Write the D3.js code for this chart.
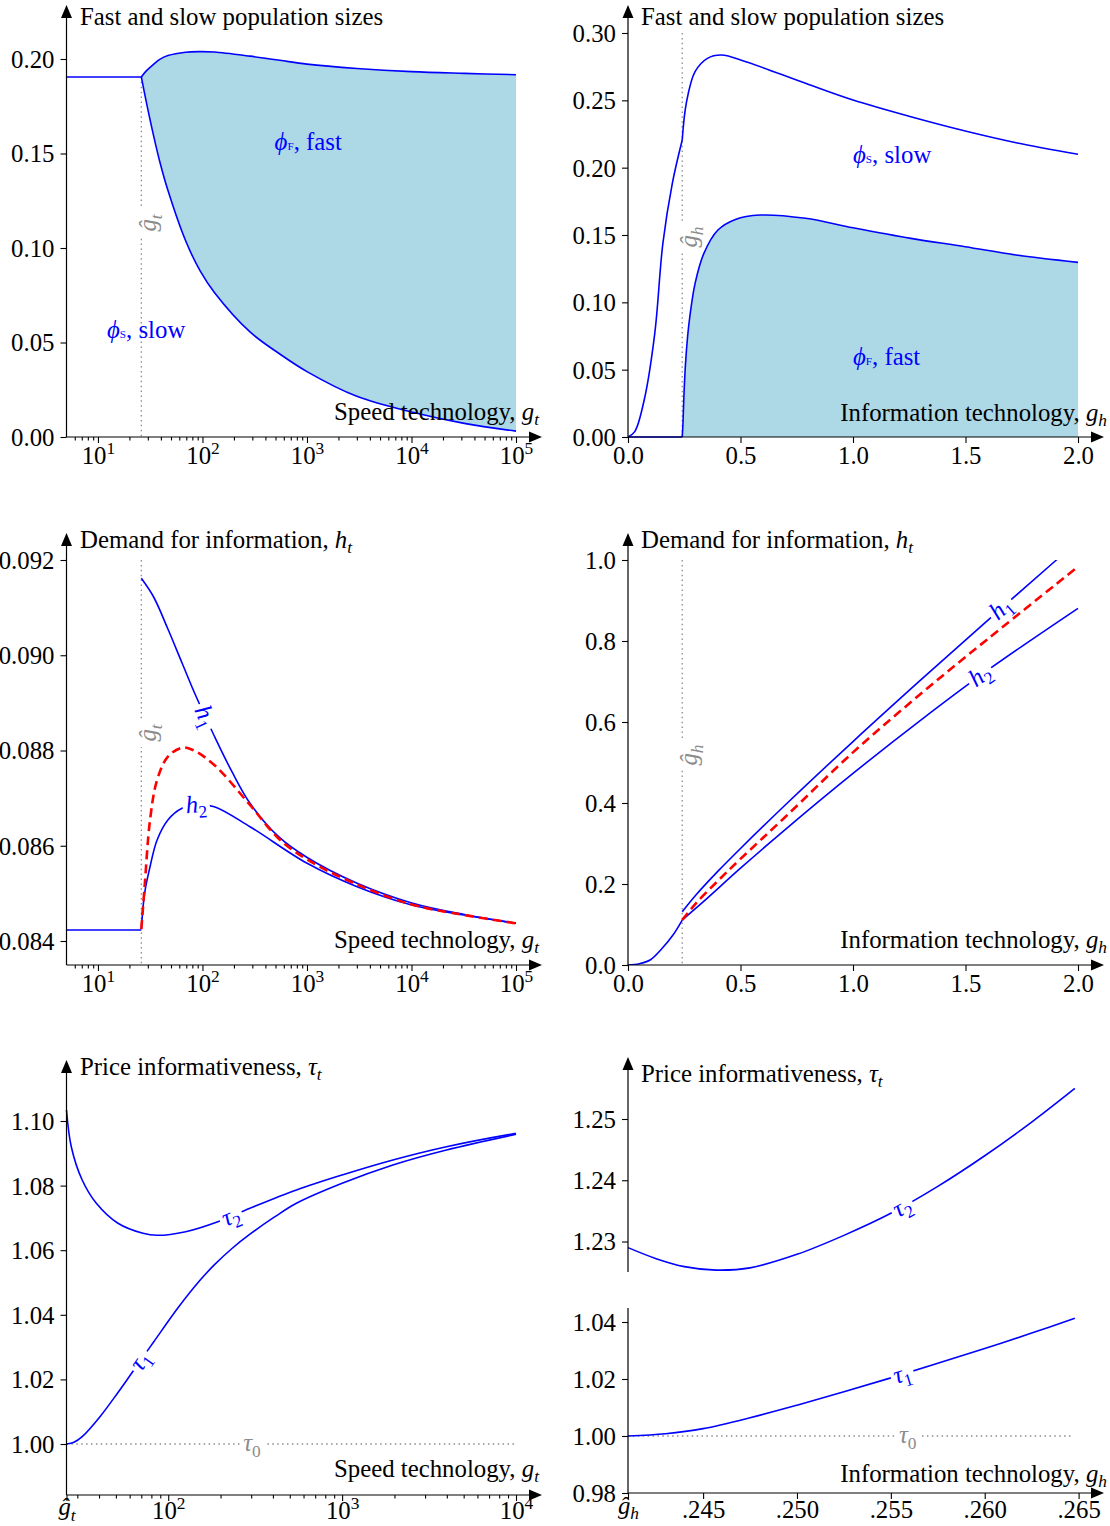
<!DOCTYPE html>
<html>
<head>
<meta charset="utf-8">
<script src="https://cdn.jsdelivr.net/npm/d3@7"></script>
<style>
  body { margin: 0; background: #fff; }
  svg { display: block; }
</style>
</head>
<body>
<script>
// ---------------- data ----------------
const gHatT = 26;      // speed-technology threshold
const gHatH = 0.241;   // information-technology threshold

// Population sizes vs speed technology (log axis)
const speedPreG = [5, 26];
const speedPrePhi = [0.1905, 0.1905];
const speedG = [26, 29, 34, 39, 46.7, 69, 95, 130, 285, 550, 1000, 3000, 10000, 32000, 100000];
const speedPhiTotal = [0.1905, 0.1937, 0.1972, 0.1998, 0.2018, 0.2036, 0.2039, 0.2037, 0.2015, 0.1993, 0.1973, 0.1950, 0.1933, 0.1924, 0.1917];
const speedPhiSlow  = [0.1905, 0.1773, 0.1596, 0.1458, 0.1305, 0.1038, 0.0879, 0.0765, 0.0556, 0.0439, 0.0346, 0.0215, 0.0132, 0.0072, 0.0031];

// Population sizes vs information technology
const infoSlowG = [0, 0.03, 0.072, 0.119, 0.155, 0.197, 0.241, 0.259, 0.298, 0.353, 0.415, 0.524, 0.789, 1.0, 1.257, 1.499, 1.725, 2.0];
const infoPhiSlow = [0, 0.004, 0.0275, 0.077, 0.1438, 0.1884, 0.2205, 0.2478, 0.2713, 0.2812, 0.2837, 0.2787, 0.2626, 0.2502, 0.2378, 0.2272, 0.2185, 0.2099];
const infoFastG = [0.241, 0.2445, 0.248, 0.255, 0.265, 0.2747, 0.2982, 0.3373, 0.3996, 0.4773, 0.5867, 0.7893, 1.0, 1.2573, 1.4991, 1.7249, 2.0];
const infoPhiFast = [0, 0.0108, 0.0283, 0.0528, 0.0748, 0.0893, 0.1141, 0.1364, 0.1537, 0.1616, 0.1648, 0.1624, 0.1554, 0.1475, 0.1413, 0.1351, 0.1297];

// Demand for information vs speed technology
const speedPreH = [0.08423, 0.08423];
const hSpeedG1 = [26, 34.1, 46.7, 63.8, 86.1, 129.8, 192, 285, 535, 1003, 3017, 10070, 32000, 100000];
const hSpeed1  = [0.091616, 0.091223, 0.090551, 0.089837, 0.089155, 0.088304, 0.087549, 0.086891, 0.086190, 0.085753, 0.085212, 0.084798, 0.084556, 0.084372];
const hSpeedG2 = [26, 27.95, 31.5, 36.8, 46.7, 63.8, 90.6, 129.8, 285, 1003, 3017, 10070, 32000, 100000];
const hSpeed2  = [0.08425, 0.08500, 0.08556, 0.086121, 0.086541, 0.086786, 0.086856, 0.08682, 0.08640, 0.085631, 0.08514, 0.084756, 0.084546, 0.084372];
const hSpeedGA = [26, 27.95, 31.5, 36.8, 46.7, 63.8, 81, 129.8, 285, 535, 1003, 3017, 10070, 32000, 100000];
const hSpeedAvg = [0.08425, 0.08514, 0.086541, 0.087381, 0.08787, 0.088059, 0.088011, 0.087696, 0.086856, 0.086152, 0.085711, 0.085186, 0.084766, 0.084546, 0.084372];

// Demand for information vs information technology
const infoPreG = [0, 0.05, 0.1, 0.15, 0.2, 0.241];
const infoPreH = [0, 0.003, 0.013, 0.040, 0.074, 0.111];
const hInfoG1 = [0.241, 0.3, 0.4, 0.5, 0.7, 1.0, 1.3, 1.6, 1.9, 2.0];
const hInfo1  = [0.1316, 0.1717, 0.2317, 0.2877, 0.3957, 0.5517, 0.7032, 0.8517, 0.9981, 1.0466];
const hInfoGA = [0.241, 0.3, 0.4, 0.5, 0.7, 1.0, 1.3, 1.6, 2.0];
const hInfoAvg = [0.111, 0.151, 0.208, 0.262, 0.366, 0.525, 0.669, 0.8055, 0.9835];
const hInfoG2 = [0.241, 0.335, 0.5, 0.7, 1.0, 1.3, 1.6, 2.0];
const hInfo2  = [0.111, 0.1563, 0.239, 0.335, 0.473, 0.604, 0.7285, 0.8807];

// Price informativeness vs speed technology
const tauSpeedG2 = [26, 27.7, 32, 38.6, 51.4, 71.5, 86.3, 126, 193, 295, 546, 1000, 1959, 3981, 10000];
const tauSpeed2  = [1.10341, 1.09204, 1.08173, 1.07452, 1.06833, 1.06523, 1.06461, 1.06573, 1.06882, 1.07297, 1.07864, 1.08328, 1.08793, 1.09204, 1.09619];
const tauSpeedG1 = [26, 28.7, 32, 40.5, 51.4, 62, 82.4, 114.7, 152.3, 184, 232.6, 295, 411, 546, 1000, 1959, 3981, 10000];
const tauSpeed1  = [1.0, 1.00053, 1.00226, 1.00845, 1.01594, 1.02214, 1.03158, 1.04241, 1.05068, 1.05545, 1.06053, 1.06495, 1.07037, 1.07452, 1.08071, 1.08638, 1.09102, 1.09588];
const tauZero = 1.0;

// Price informativeness vs information technology
const tauInfoG2 = [0.241, 0.2425, 0.244, 0.2457, 0.2475, 0.25, 0.2525, 0.255, 0.2575, 0.26, 0.2625, 0.2648];
const tauInfo2  = [1.2290, 1.2272, 1.2259, 1.22533, 1.2257, 1.2279, 1.2310, 1.2346, 1.2390, 1.2440, 1.2495, 1.2550];
const tauInfoG1 = [0.241, 0.243, 0.245, 0.2475, 0.25, 0.2525, 0.255, 0.2575, 0.26, 0.2625, 0.2648];
const tauInfo1  = [1.0, 1.0008, 1.0026, 1.0064, 1.0108, 1.0155, 1.0204, 1.0255, 1.0307, 1.0361, 1.0413];

// Tick values
const speedMajor = [10, 100, 1000, 10000, 100000];
const tauSpeedMajor = [gHatT, 100, 1000, 10000];
const infoTicks = [0, 0.5, 1.0, 1.5, 2.0];
const infoZoomTicks = [gHatH, 0.245, 0.25, 0.255, 0.26, 0.265];
const phiSpeedTicks = [0, 0.05, 0.10, 0.15, 0.20];
const phiInfoTicks = [0, 0.05, 0.10, 0.15, 0.20, 0.25, 0.30];
const hSpeedTicks = [0.084, 0.086, 0.088, 0.090, 0.092];
const hInfoTicks = [0, 0.2, 0.4, 0.6, 0.8, 1.0];
const tauSpeedTicks = [1.00, 1.02, 1.04, 1.06, 1.08, 1.10];
const tauInfoTopTicks = [1.23, 1.24, 1.25];
const tauInfoBotTicks = [0.98, 1.00, 1.02, 1.04];

// ---------------- drawing helpers ----------------
const FS = 24.8;
const BLUE = "#0000ff", RED = "#ff0000", GRAY = "#8c8c8c", FILL = "#add8e6";
const SMOOTH = d3.curveCatmullRom.alpha(0.5);

const svg = d3.select("body").append("svg")
  .attr("width", 1110).attr("height", 1526)
  .attr("font-family", "'Liberation Serif','Times New Roman',serif")
  .attr("font-size", FS);

// text with italic / sub / superscript pieces
function rich(sel, parts, fs) {
  let shift = 0;
  parts.forEach(p => {
    const o = typeof p === "string" ? { t: p } : p;
    const size = o.tiny ? fs * 0.45 : (o.sub || o.sup) ? fs * 0.7 : fs;
    const target = o.sub ? fs * 0.22 : o.sup ? -fs * 0.4 : 0;
    const ts = sel.append("tspan").text(o.t).attr("font-size", size);
    if (o.i) ts.attr("font-style", "italic");
    if (target !== shift) { ts.attr("dy", target - shift); shift = target; }
  });
  return sel;
}

function frame(g, o) {
  const k = g.append("g");
  k.append("line").attr("x1", o.left).attr("x2", o.xTip - 11)
    .attr("y1", o.axisY).attr("y2", o.axisY).attr("stroke", "#000").attr("stroke-width", 1.2);
  k.append("path").attr("d", `M${o.xTip - 13},${o.axisY - 5.5}L${o.xTip},${o.axisY}L${o.xTip - 13},${o.axisY + 5.5}Z`);
  (o.ySegs || [[o.axisY, o.yTip + 11]]).forEach(s => {
    k.append("line").attr("x1", o.left).attr("x2", o.left).attr("y1", s[0]).attr("y2", s[1])
      .attr("stroke", "#000").attr("stroke-width", 1.2);
  });
  k.append("path").attr("d", `M${o.left - 5.5},${o.yTip + 13}L${o.left},${o.yTip}L${o.left + 5.5},${o.yTip + 13}Z`);
}

function yAxis(g, x, scale, ticks, fmt) {
  const ax = g.append("g").attr("transform", `translate(${x},0)`)
    .call(d3.axisLeft(scale).tickValues(ticks).tickFormat(fmt).tickSize(6).tickPadding(6));
  ax.select(".domain").remove();
  ax.attr("font-size", null).attr("font-family", null);
  ax.selectAll("line").attr("stroke-width", 1.1);
  ax.selectAll("text").attr("font-size", FS).attr("dy", "0.34em");
  return ax;
}

// partsFn returns the label pieces; dyFn the vertical offset of each label
function xAxis(g, y, scale, ticks, partsFn, size, dyFn) {
  const ax = g.append("g").attr("transform", `translate(0,${y})`)
    .call(d3.axisBottom(scale).tickValues(ticks).tickFormat("").tickSize(size || 6).tickPadding(3));
  ax.select(".domain").remove();
  ax.attr("font-size", null).attr("font-family", null);
  ax.selectAll("line").attr("stroke-width", 1.1);
  if (partsFn) {
    ax.selectAll(".tick text").each(function (d) {
      const t = d3.select(this).text("").attr("font-size", FS).attr("dy", dyFn ? dyFn(d) : "0.72em");
      rich(t, partsFn(d), FS);
    });
  }
  return ax;
}

function minorLog(lo, hi) {
  const out = [];
  for (let d = 1; d <= 1e5; d *= 10)
    for (let m = 2; m <= 9; m++) { const v = m * d; if (v > lo && v < hi) out.push(v); }
  return out;
}

function line(g, xs, ys, xS, yS, stroke, opts) {
  opts = opts || {};
  const gen = d3.line().curve(opts.curve || SMOOTH)
    .x(i => xS(xs[i])).y(i => yS(ys[i]));
  return g.append("path").datum(d3.range(xs.length)).attr("d", gen)
    .attr("fill", "none").attr("stroke", stroke)
    .attr("stroke-width", opts.w || 1.6)
    .attr("stroke-dasharray", opts.dash || null)
    .attr("stroke-linejoin", "round");
}

function dotted(g, x1, y1, x2, y2) {
  return g.append("path").attr("d", `M${x1},${y1}L${x2},${y2}`)
    .attr("stroke", GRAY).attr("stroke-width", 1.3).attr("stroke-dasharray", "1.5,3.4").attr("fill", "none");
}

// label sitting on a curve, rotated with it, with a white gap behind
function curveLabel(g, pathSel, xTarget, parts, color) {
  const node = pathSel.node();
  const L = node.getTotalLength();
  let lo = 0, hi = L;
  for (let k = 0; k < 40; k++) {
    const mid = (lo + hi) / 2;
    if (node.getPointAtLength(mid).x < xTarget) lo = mid; else hi = mid;
  }
  const p = node.getPointAtLength(lo);
  const a = node.getPointAtLength(Math.max(0, lo - 5)), b = node.getPointAtLength(Math.min(L, lo + 5));
  const ang = Math.atan2(b.y - a.y, b.x - a.x) * 180 / Math.PI;
  const lg = g.append("g").attr("transform", `translate(${p.x},${p.y}) rotate(${ang})`);
  const rect = lg.append("rect").attr("fill", "#fff");
  const t = lg.append("text").attr("text-anchor", "middle").attr("dy", "0.3em").attr("fill", color);
  rich(t, parts, FS);
  const bb = t.node().getBBox();
  rect.attr("x", bb.x - 3).attr("y", -7).attr("width", bb.width + 6).attr("height", 14);
}

// threshold label on the vertical dotted line
function hatLabel(g, x, y, sub) {
  g.append("rect").attr("x", x - 3).attr("y", y - 14).attr("width", 6).attr("height", 28).attr("fill", "#fff");
  const t = g.append("text").attr("transform", `translate(${x + 15},${y}) rotate(-90)`)
    .attr("text-anchor", "middle").attr("fill", GRAY);
  rich(t, [{ t: "ĝ", i: true }, { t: sub, i: true, sub: true }], FS);
}

function title(g, x, y, parts) {
  rich(g.append("text").attr("x", x).attr("y", y), parts, FS);
}
function xTitle(g, x, y, parts) {
  rich(g.append("text").attr("x", x).attr("y", y).attr("text-anchor", "end"), parts, FS);
}

const powParts = d => ["10", { t: String(Math.round(Math.log10(d))), sup: true }];
const f2 = d3.format(".2f"), f1 = d3.format(".1f"), f3 = d3.format(".3f");

const speedTitle = ["Speed technology, ", { t: "g", i: true }, { t: "t", i: true, sub: true }];
const infoTitle = ["Information technology, ", { t: "g", i: true }, { t: "h", i: true, sub: true }];

// ---------------- top left: population sizes vs speed ----------------
{
  const g = svg.append("g");
  const x = d3.scaleLog().domain([5, 1e5]).range([66.5, 516]);
  const y = d3.scaleLinear().domain([0, 0.2]).range([437, 59]);
  const area = d3.area().curve(SMOOTH)
    .x(i => x(speedG[i])).y0(i => y(speedPhiSlow[i])).y1(i => y(speedPhiTotal[i]));
  g.append("path").datum(d3.range(speedG.length)).attr("d", area).attr("fill", FILL);
  dotted(g, x(gHatT), y(speedPrePhi[1]), x(gHatT), 437);
  hatLabel(g, x(gHatT), 223, "t");
  line(g, speedPreG, speedPrePhi, x, y, BLUE, { curve: d3.curveLinear });
  line(g, speedG, speedPhiTotal, x, y, BLUE);
  line(g, speedG, speedPhiSlow, x, y, BLUE);
  rich(g.append("text").attr("x", x(490)).attr("y", y(0.1519)).attr("fill", BLUE),
    [{ t: "ϕ", i: true }, { t: "F", tiny: true }, ", fast"], FS);
  rich(g.append("text").attr("x", x(12.2)).attr("y", y(0.0524)).attr("fill", BLUE),
    [{ t: "ϕ", i: true }, { t: "S", tiny: true }, ", slow"], FS);
  xTitle(g, 539, 420, speedTitle);
  title(g, 80, 25, ["Fast and slow population sizes"]);
  yAxis(g, 66.5, y, phiSpeedTicks, f2);
  xAxis(g, 437, x, minorLog(5, 1.7e5), null, 3.5);
  xAxis(g, 437, x, speedMajor, powParts);
  frame(g, { left: 66.5, axisY: 437, yTip: 5, xTip: 542 });
}

// ---------------- top right: population sizes vs information ----------------
{
  const g = svg.append("g");
  const x = d3.scaleLinear().domain([0, 2]).range([628, 1078]);
  const y = d3.scaleLinear().domain([0, 0.3]).range([437, 33]);
  const area = d3.area().curve(SMOOTH)
    .x(i => x(infoFastG[i])).y0(y(0)).y1(i => y(infoPhiFast[i]));
  g.append("path").datum(d3.range(infoFastG.length)).attr("d", area).attr("fill", FILL);
  dotted(g, x(gHatH), y(0.30), x(gHatH), 437);
  hatLabel(g, x(gHatH), 237, "h");
  const pre = infoSlowG.map((v, i) => i).filter(i => infoSlowG[i] <= gHatH);
  const post = infoSlowG.map((v, i) => i).filter(i => infoSlowG[i] >= gHatH);
  line(g, pre.map(i => infoSlowG[i]), pre.map(i => infoPhiSlow[i]), x, y, BLUE);
  line(g, post.map(i => infoSlowG[i]), post.map(i => infoPhiSlow[i]), x, y, BLUE);
  line(g, [0, gHatH], [0, 0], x, y, BLUE, { curve: d3.curveLinear });
  line(g, infoFastG, infoPhiFast, x, y, BLUE);
  rich(g.append("text").attr("x", x(1.0)).attr("y", y(0.2035)).attr("fill", BLUE),
    [{ t: "ϕ", i: true }, { t: "S", tiny: true }, ", slow"], FS);
  rich(g.append("text").attr("x", x(1.0)).attr("y", y(0.0535)).attr("fill", BLUE),
    [{ t: "ϕ", i: true }, { t: "F", tiny: true }, ", fast"], FS);
  xTitle(g, 1107, 421, infoTitle);
  title(g, 641, 25, ["Fast and slow population sizes"]);
  yAxis(g, 628, y, phiInfoTicks, f2);
  xAxis(g, 437, x, infoTicks, d => [f1(d)]);
  frame(g, { left: 628, axisY: 437, yTip: 5, xTip: 1104 });
}

// ---------------- middle left: demand for information vs speed ----------------
{
  const g = svg.append("g");
  const x = d3.scaleLog().domain([5, 1e5]).range([66.5, 516]);
  const y = d3.scaleLinear().domain([0.084, 0.092]).range([941, 560]);
  dotted(g, x(gHatT), y(0.092), x(gHatT), 965);
  hatLabel(g, x(gHatT), 733, "t");
  line(g, speedPreG, speedPreH, x, y, BLUE, { curve: d3.curveLinear });
  const p2 = line(g, hSpeedG2, hSpeed2, x, y, BLUE);
  const p1 = line(g, hSpeedG1, hSpeed1, x, y, BLUE);
  line(g, hSpeedGA, hSpeedAvg, x, y, RED, { w: 2.6, dash: "9,5" });
  curveLabel(g, p1, x(106), [{ t: "h", i: true }, { t: "1", sub: true }], BLUE);
  curveLabel(g, p2, x(87), [{ t: "h", i: true }, { t: "2", sub: true }], BLUE);
  xTitle(g, 539, 948, speedTitle);
  title(g, 80, 548, ["Demand for information, ", { t: "h", i: true }, { t: "t", i: true, sub: true }]);
  yAxis(g, 66.5, y, hSpeedTicks, f3);
  xAxis(g, 965, x, minorLog(5, 1.7e5), null, 3.5);
  xAxis(g, 965, x, speedMajor, powParts);
  frame(g, { left: 66.5, axisY: 965, yTip: 533, xTip: 542 });
}

// ---------------- middle right: demand for information vs information ----------------
{
  const g = svg.append("g");
  const x = d3.scaleLinear().domain([0, 2]).range([628, 1078]);
  const y = d3.scaleLinear().domain([0, 1]).range([965, 560]);
  svg.append("clipPath").attr("id", "clipMR").append("rect")
    .attr("x", 628).attr("y", 560).attr("width", 482).attr("height", 405);
  dotted(g, x(gHatH), y(1.0), x(gHatH), 965);
  hatLabel(g, x(gHatH), 755, "h");
  const c = g.append("g").attr("clip-path", "url(#clipMR)");
  line(c, infoPreG, infoPreH, x, y, BLUE);
  const p1 = line(c, hInfoG1, hInfo1, x, y, BLUE);
  const p2 = line(c, hInfoG2, hInfo2, x, y, BLUE);
  line(c, hInfoGA, hInfoAvg, x, y, RED, { w: 2.6, dash: "9,5" });
  curveLabel(c, p1, x(1.658), [{ t: "h", i: true }, { t: "1", sub: true }], BLUE);
  curveLabel(c, p2, x(1.565), [{ t: "h", i: true }, { t: "2", sub: true }], BLUE);
  xTitle(g, 1107, 948, infoTitle);
  title(g, 641, 548, ["Demand for information, ", { t: "h", i: true }, { t: "t", i: true, sub: true }]);
  yAxis(g, 628, y, hInfoTicks, f1);
  xAxis(g, 965, x, infoTicks, d => [f1(d)]);
  frame(g, { left: 628, axisY: 965, yTip: 533, xTip: 1104 });
}

// ---------------- bottom left: price informativeness vs speed ----------------
{
  const g = svg.append("g");
  const x = d3.scaleLog().domain([gHatT, 1e4]).range([66.5, 516]);
  const y = d3.scaleLinear().domain([1.0, 1.1]).range([1444, 1121]);
  const z = dotted(g, x(gHatT), y(tauZero), x(1e4), y(tauZero));
  const p2 = line(g, tauSpeedG2, tauSpeed2, x, y, BLUE);
  const p1 = line(g, tauSpeedG1, tauSpeed1, x, y, BLUE);
  curveLabel(g, p2, x(229), [{ t: "τ", i: true }, { t: "2", sub: true }], BLUE);
  curveLabel(g, p1, x(69), [{ t: "τ", i: true }, { t: "1", sub: true }], BLUE);
  curveLabel(g, z, x(303), [{ t: "τ", i: true }, { t: "0", sub: true }], GRAY);
  xTitle(g, 539, 1477, speedTitle);
  title(g, 80, 1075, ["Price informativeness, ", { t: "τ", i: true }, { t: "t", i: true, sub: true }]);
  yAxis(g, 66.5, y, tauSpeedTicks, f2);
  xAxis(g, 1495, x, minorLog(gHatT, 1e4), null, 3.5);
  xAxis(g, 1495, x, tauSpeedMajor, d => d === gHatT
    ? [{ t: "ĝ", i: true }, { t: "t", i: true, sub: true }] : powParts(d), 6,
    d => d === gHatT ? "0.46em" : "0.6em");
  frame(g, { left: 66.5, axisY: 1495, yTip: 1060, xTip: 542 });
}

// ---------------- bottom right: price informativeness vs information (broken axis) ----------------
{
  const g = svg.append("g");
  const x = d3.scaleLinear().domain([gHatH, 0.265]).range([628, 1078.6]);
  const yTop = d3.scaleLinear().domain([1.23, 1.25]).range([1241.5, 1119]);
  const yBot = d3.scaleLinear().domain([0.98, 1.04]).range([1493, 1322]);
  const z = dotted(g, x(gHatH), yBot(tauZero), x(0.2646), yBot(tauZero));
  const p2 = line(g, tauInfoG2, tauInfo2, x, yTop, BLUE);
  const p1 = line(g, tauInfoG1, tauInfo1, x, yBot, BLUE);
  curveLabel(g, p2, x(0.2556), [{ t: "τ", i: true }, { t: "2", sub: true }], BLUE);
  curveLabel(g, p1, x(0.2556), [{ t: "τ", i: true }, { t: "1", sub: true }], BLUE);
  curveLabel(g, z, x(0.2559), [{ t: "τ", i: true }, { t: "0", sub: true }], GRAY);
  xTitle(g, 1107, 1482, infoTitle);
  title(g, 641, 1082, ["Price informativeness, ", { t: "τ", i: true }, { t: "t", i: true, sub: true }]);
  yAxis(g, 628, yTop, tauInfoTopTicks, f2);
  yAxis(g, 628, yBot, tauInfoBotTicks, f2);
  xAxis(g, 1493, x, infoZoomTicks, d => d === gHatH
    ? [{ t: "ĝ", i: true }, { t: "h", i: true, sub: true }] : [f3(d).replace(/^0/, "")], 6,
    d => d === gHatH ? "0.48em" : "0.66em");
  frame(g, { left: 628, axisY: 1493, yTip: 1057, xTip: 1104, ySegs: [[1272, 1068], [1308, 1493]] });
}
</script>
</body>
</html>
